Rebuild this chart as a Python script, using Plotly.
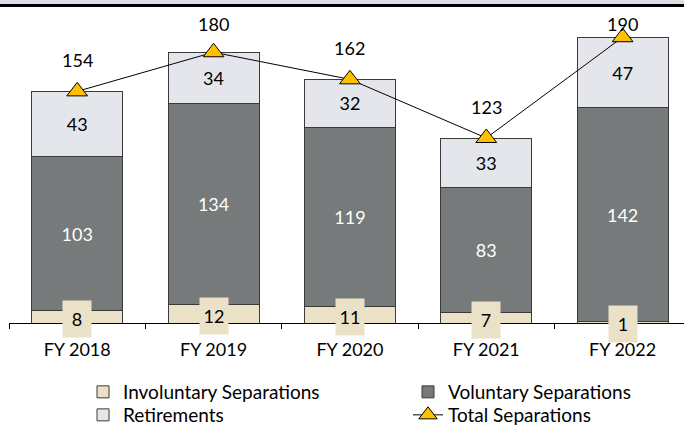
import plotly.graph_objects as go

years = ["FY 2018", "FY 2019", "FY 2020", "FY 2021", "FY 2022"]
involuntary = [8, 12, 11, 7, 1]
voluntary = [103, 134, 119, 83, 142]
retirements = [43, 34, 32, 33, 47]
totals = [154, 180, 162, 123, 190]
series_names = ["Involuntary Separations", "Voluntary Separations", "Retirements", "Total Separations"]

W, H = 684, 427
ML, MR, MT, MB = 9, 0, 10, 104
YMAX = 208.1
plot_h = H - MT - MB
px_per_unit = plot_h / YMAX

FONT = "Lato"
C_INV = "#EAE1C6"
C_VOL = "#767A7A"
C_RET = "#E4E6EC"
C_EDGE = "#3A3A3A"

fig = go.Figure()
fig.add_trace(go.Bar(x=years, y=involuntary, name=series_names[0], legend="legend",
                     marker=dict(color=C_INV, line=dict(color=C_EDGE, width=1))))
fig.add_trace(go.Bar(x=years, y=voluntary, name=series_names[1], legend="legend",
                     marker=dict(color=C_VOL, line=dict(color=C_EDGE, width=1)),
                     text=[str(v) for v in voluntary], textposition="inside",
                     insidetextanchor="middle",
                     textfont=dict(color="white", size=18, family=FONT)))
fig.add_trace(go.Bar(x=years, y=retirements, name=series_names[2], legend="legend2",
                     marker=dict(color=C_RET, line=dict(color=C_EDGE, width=1)),
                     text=[str(v) for v in retirements], textposition="inside",
                     insidetextanchor="middle",
                     textfont=dict(color="black", size=18, family=FONT)))
fig.add_trace(go.Scatter(x=years, y=totals, name=series_names[3], mode="lines+markers",
                         legend="legend2",
                         line=dict(color="black", width=1),
                         marker=dict(symbol="triangle-up", size=18, color="#FFC000",
                                     line=dict(color="black", width=1))))

annotations = []
# involuntary labels in boxes
for yr, v in zip(years, involuntary):
    annotations.append(dict(x=yr, y=v / 2, xref="x", yref="y", text=str(v), showarrow=False,
                            yshift=-2, width=26, height=34, bgcolor=C_INV,
                            font=dict(size=18, color="black", family=FONT)))
# total labels above markers, kept inside the chart top
for yr, t in zip(years, totals):
    marker_px = MT + (YMAX - t) * px_per_unit
    shift = min(31, marker_px - 24)
    annotations.append(dict(x=yr, y=t, xref="x", yref="y", text=str(t), showarrow=False,
                            yshift=shift, font=dict(size=18, color="black", family=FONT)))

def py(p):
    return 1 + (MT - p) / plot_h

shapes = [
    dict(type="rect", xref="paper", yref="paper", x0=-1, x1=2, y0=py(0), y1=py(4),
         fillcolor="#DCE0E6", line=dict(width=0), layer="above"),
    dict(type="rect", xref="paper", yref="paper", x0=-1, x1=2, y0=py(4), y1=py(7),
         fillcolor="black", line=dict(width=0), layer="above"),
]

LEG_X = 83 / W
legend_common = dict(orientation="h", xref="container", yref="container",
                     x=LEG_X, xanchor="left", yanchor="middle",
                     entrywidth=280, entrywidthmode="pixels", traceorder="normal",
                     font=dict(size=19, family=FONT, color="black"),
                     bgcolor="rgba(0,0,0,0)", borderwidth=0, itemwidth=30)

fig.update_layout(
    width=W, height=H,
    margin=dict(l=ML, r=MR, t=MT, b=MB, pad=0, autoexpand=False),
    paper_bgcolor="white", plot_bgcolor="white",
    barmode="stack", bargap=0.333,
    font=dict(family=FONT, size=17, color="black"),
    showlegend=True,
    legend=dict(legend_common, y=1 - 392 / H),
    legend2=dict(legend_common, y=1 - 415 / H),
    annotations=annotations,
    shapes=shapes,
)
fig.update_xaxes(range=[-0.5, 4.45], showline=True, linecolor="black", linewidth=1,
                 ticks="outside", tickson="boundaries", ticklen=5, tickcolor="black",
                 showgrid=False, ticklabelstandoff=10,
                 tickfont=dict(size=18, family=FONT, color="black"))
fig.update_yaxes(range=[0, YMAX], visible=False, showgrid=False)

fig.write_html("out.html", config={"displayModeBar": False},
               post_script="document.body.style.margin='0px';")
